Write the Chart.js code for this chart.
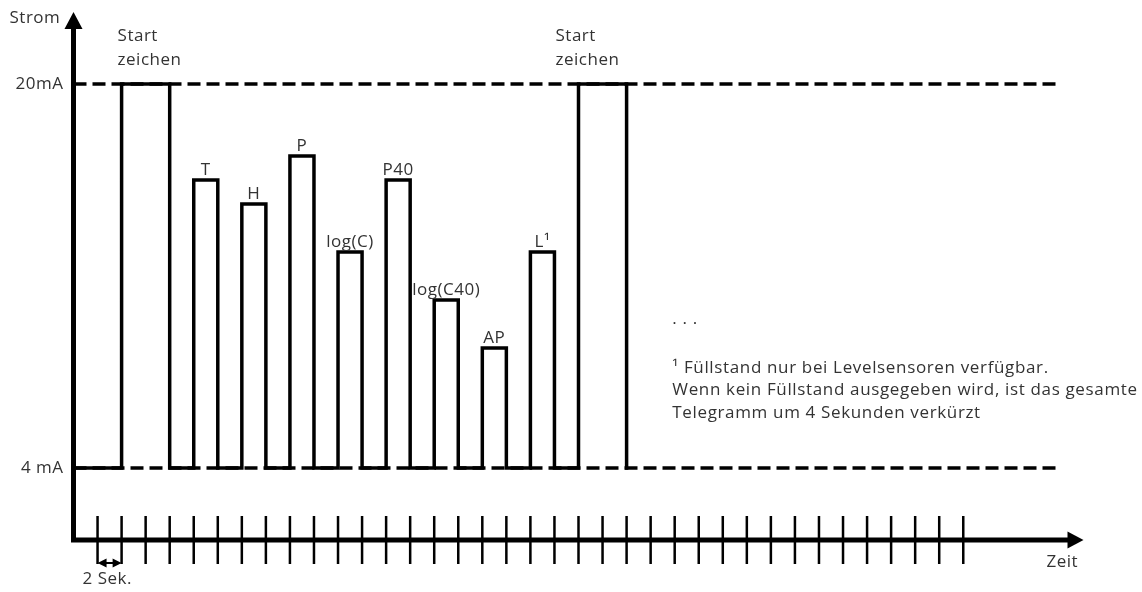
<!DOCTYPE html>
<html>
<head>
<meta charset="utf-8">
<script src="https://cdn.jsdelivr.net/npm/chart.js@4/dist/chart.umd.min.js"></script>
<style>
  body { margin: 0; background: #fff; }
</style>
</head>
<body>
<canvas id="signal-chart" width="1142" height="592"></canvas>
<script>
// Telegramm: Pulse (Sekunden / mA)
const pulseNames = ["Start zeichen", "T", "H", "P", "log(C)", "P40", "log(C40)", "AP", "L¹", "Start zeichen"];
const pulseStart = [2, 8, 12, 16, 20, 24, 28, 32, 36, 40];
const pulseEnd = [6, 10, 14, 18, 22, 26, 30, 34, 38, 44];
const pulseLevel = [20, 16, 15, 17, 13, 16, 11, 9, 13, 20];
const levelValues = [20, 4];
const levelLabels = ["20mA", "4 mA"];
const tickTimes = [0, 2, 4, 6, 8, 10, 12, 14, 16, 18, 20, 22, 24, 26, 28, 30, 32, 34, 36,
  38, 40, 42, 44, 46, 48, 50, 52, 54, 56, 58, 60, 62, 64, 66, 68, 70, 72];
const footnote = ["¹ Füllstand nur bei Levelsensoren verfügbar.",
  "Wenn kein Füllstand ausgegeben wird, ist das gesamte",
  "Telegramm um 4 Sekunden verkürzt"];

const tMin = -2, tMax = 82, tLineEnd = 80;
const baseLevel = 4;

// step signal from the pulses
const signal = [{ x: tMin, y: baseLevel }];
pulseStart.forEach((s, i) => {
  signal.push({ x: s, y: baseLevel }, { x: s, y: pulseLevel[i] },
    { x: pulseEnd[i], y: pulseLevel[i] }, { x: pulseEnd[i], y: baseLevel });
});

const levelLines = levelValues.map(v => ({
  data: [{ x: tMin, y: v }, { x: tLineEnd, y: v }],
  borderColor: "#000",
  borderWidth: 3.5,
  borderDash: [13, 6],
  pointRadius: 0
}));

const FONT = '17px "Open Sans"';
const TXT = "#333";

const drawing = {
  id: "drawing",
  afterDraw(chart) {
    const ctx = chart.ctx, x = chart.scales.x, y = chart.scales.y;
    const x0 = x.getPixelForValue(tMin), yAxis = y.getPixelForValue(1);
    const yTop = y.getPixelForValue(23), xEnd = x.getPixelForValue(tMax);
    ctx.save();
    ctx.fillStyle = "#000";
    ctx.strokeStyle = "#000";

    // axes
    ctx.lineWidth = 5;
    ctx.beginPath();
    ctx.moveTo(x0, yAxis + 2.5);
    ctx.lineTo(x0, yTop + 14);
    ctx.moveTo(x0 - 2.5, yAxis);
    ctx.lineTo(xEnd - 12, yAxis);
    ctx.stroke();
    ctx.beginPath();
    ctx.moveTo(x0, yTop);
    ctx.lineTo(x0 + 9, yTop + 17);
    ctx.lineTo(x0 - 9, yTop + 17);
    ctx.closePath();
    ctx.fill();
    ctx.beginPath();
    ctx.moveTo(xEnd, yAxis);
    ctx.lineTo(xEnd - 16, yAxis - 8.5);
    ctx.lineTo(xEnd - 16, yAxis + 8.5);
    ctx.closePath();
    ctx.fill();

    // time ticks
    ctx.lineWidth = 2.5;
    ctx.beginPath();
    tickTimes.forEach(t => {
      const px = x.getPixelForValue(t);
      ctx.moveTo(px, y.getPixelForValue(2));
      ctx.lineTo(px, y.getPixelForValue(0));
    });
    ctx.stroke();

    // 2 Sek. marker
    const a = x.getPixelForValue(tickTimes[0]), b = x.getPixelForValue(tickTimes[1]);
    const ym = y.getPixelForValue(0) - 1;
    ctx.lineWidth = 2;
    ctx.beginPath();
    ctx.moveTo(a + 4, ym);
    ctx.lineTo(b - 4, ym);
    ctx.stroke();
    [[a, 1], [b, -1]].forEach(([p, d]) => {
      ctx.beginPath();
      ctx.moveTo(p, ym);
      ctx.lineTo(p + d * 9, ym - 4.5);
      ctx.lineTo(p + d * 9, ym + 4.5);
      ctx.closePath();
      ctx.fill();
    });

    // texts
    ctx.font = FONT;
    ctx.letterSpacing = "0.5px";
    ctx.fillStyle = TXT;
    ctx.textBaseline = "middle";
    ctx.textAlign = "left";
    ctx.fillText("Strom", x0 - 64, yTop + 6);
    ctx.fillText("Zeit", xEnd - 37, y.getPixelForValue(0) - 2);
    ctx.fillText("2 Sek.", a - 15, ym + 16);
    ctx.textAlign = "right";
    levelValues.forEach((v, i) => ctx.fillText(levelLabels[i], x0 - 10, y.getPixelForValue(v)));

    // pulse names
    pulseNames.forEach((name, i) => {
      const s = x.getPixelForValue(pulseStart[i]), e = x.getPixelForValue(pulseEnd[i]);
      const top = y.getPixelForValue(pulseLevel[i]);
      if (name.indexOf(" ") > 0) {
        const parts = name.split(" ");
        const left = i === 0 ? s - 4 : s - 23;
        ctx.textAlign = "left";
        ctx.textBaseline = "middle";
        ctx.fillText(parts[0], left, top - 48);
        ctx.fillText(parts[1], left, top - 24);
      } else {
        ctx.textAlign = "center";
        ctx.textBaseline = "alphabetic";
        ctx.fillText(name, (s + e) / 2, top - 5);
      }
    });

    // ... and footnote
    ctx.textAlign = "left";
    ctx.textBaseline = "middle";
    ctx.letterSpacing = "0.65px";
    const fx = x.getPixelForValue(47.8);
    ctx.fillText(". . .", fx, y.getPixelForValue(10.2));
    footnote.forEach((line, i) => ctx.fillText(line, fx, y.getPixelForValue(8.17) + i * 22.5));
    ctx.restore();
  }
};

new Chart(document.getElementById("signal-chart"), {
  type: "line",
  data: {
    datasets: [{
      data: signal,
      borderColor: "#000",
      borderWidth: 3.5,
      pointRadius: 0,
      borderJoinStyle: "miter",
      borderCapStyle: "square"
    }].concat(levelLines)
  },
  options: {
    responsive: false,
    animation: false,
    layout: { padding: { left: 73.5, right: 58.5, top: 12, bottom: 4 } },
    scales: {
      x: { type: "linear", min: tMin, max: tMax, display: false },
      y: { min: -1, max: 23, display: false }
    },
    plugins: { legend: { display: false }, tooltip: { enabled: false } }
  },
  plugins: [drawing]
});
</script>
</body>
</html>
